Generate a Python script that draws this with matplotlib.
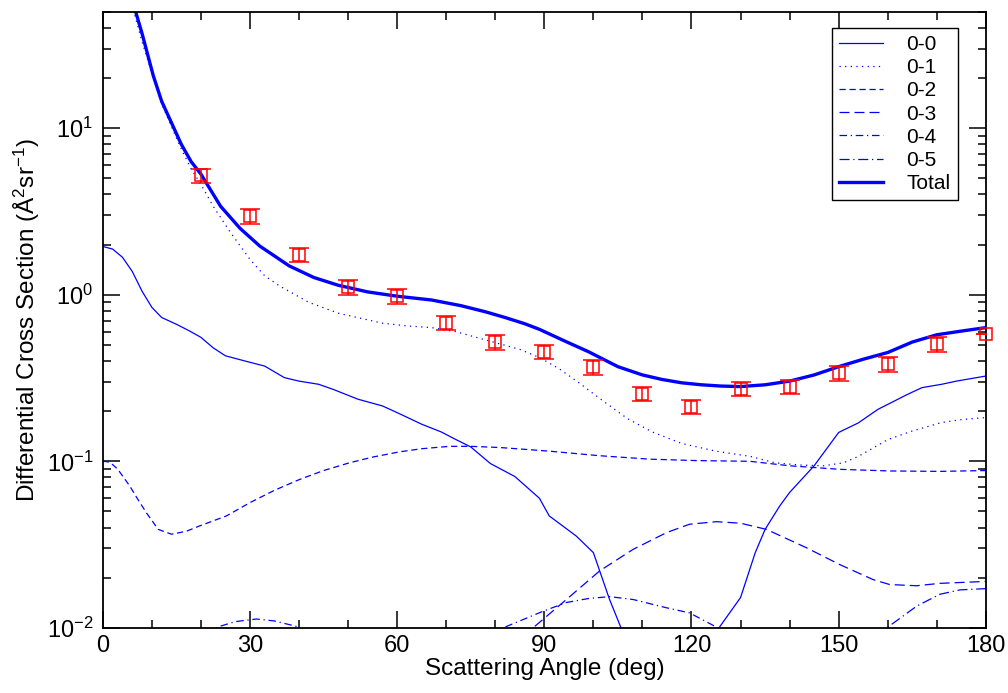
import numpy as np
import matplotlib
matplotlib.use("Agg")
import matplotlib.pyplot as plt
from matplotlib.ticker import MultipleLocator, LogLocator

plt.rcParams['font.family'] = ['Liberation Sans', 'DejaVu Sans']
plt.rcParams['mathtext.default'] = 'regular'

# -------------------------
# digitised curves (angle in deg, DCS in A^2/sr)
# -------------------------
ang_00 = [0, 2, 4, 6, 8, 10, 12, 15, 17.5, 20, 22.5, 25, 29, 33, 37, 40, 44, 47, 52, 57,
          60, 65, 69, 72, 75, 79, 84, 89, 91, 96.5, 100, 103.3, 105.7, 108, 115, 123, 125.6,
          130, 133, 135, 138, 140, 145, 150, 154, 158, 164, 167, 171, 174, 180]
dcs_00 = [1.95, 1.88, 1.68, 1.38, 1.05, 0.84, 0.73, 0.665, 0.61, 0.555, 0.48, 0.43, 0.40,
          0.373, 0.318, 0.303, 0.29, 0.27, 0.236, 0.215, 0.196, 0.167, 0.15, 0.135, 0.122,
          0.097, 0.081, 0.06, 0.047, 0.0356, 0.0283, 0.0148, 0.0099, 0.0063, 0.001, 0.0065,
          0.01, 0.0152, 0.0283, 0.039, 0.054, 0.065, 0.094, 0.149, 0.17, 0.205, 0.252, 0.277,
          0.29, 0.303, 0.325]

ang_01 = [4, 5, 6.5, 8, 10, 12, 14, 16, 18, 20, 22.5, 26, 30, 33, 36, 42, 48, 57, 62, 67,
          72, 80, 85, 89, 93, 97, 102, 107, 112, 118, 125, 132, 137, 142, 147, 151, 154, 157,
          160, 165, 171, 175, 180]
dcs_01 = [110, 68, 48, 33, 21.5, 14, 10.2, 7.5, 5.7, 4.6, 3.4, 2.37, 1.63, 1.3, 1.13, 0.9,
          0.775, 0.675, 0.65, 0.635, 0.6, 0.516, 0.47, 0.42, 0.36, 0.297, 0.23, 0.18, 0.15,
          0.128, 0.115, 0.107, 0.098, 0.095, 0.094, 0.098, 0.107, 0.12, 0.135, 0.152, 0.171,
          0.178, 0.183]

ang_02 = [0, 1.4, 3, 5.5, 7, 8.9, 11.3, 14, 17, 19.8, 25.2, 30, 35, 40.2, 45, 50.3, 55,
          60.5, 65, 70.7, 75, 80.9, 86, 91.1, 101.3, 111.5, 121, 131.9, 140, 150.2, 160.4,
          170.6, 180]
dcs_02 = [0.1, 0.099, 0.09, 0.071, 0.06, 0.049, 0.039, 0.0365, 0.038, 0.041, 0.047, 0.0565,
          0.067, 0.078, 0.088, 0.098, 0.106, 0.114, 0.119, 0.123, 0.123, 0.121, 0.118, 0.115,
          0.108, 0.103, 0.101, 0.1, 0.094, 0.0895, 0.0875, 0.087, 0.088]

ang_03 = [84, 87.7, 94.5, 101.3, 108.1, 114.9, 119.6, 125.1, 130, 135.3, 143.4, 150.2, 157,
          160.4, 165.9, 170.6, 180]
dcs_03 = [0.0075, 0.01, 0.0148, 0.022, 0.0296, 0.0373, 0.0419, 0.0434, 0.0425, 0.039,
          0.0303, 0.024, 0.0195, 0.0182, 0.0179, 0.0185, 0.019]

ang_04 = [18, 23.8, 27, 31.3, 35, 39.5, 44, 78, 82.3, 89.8, 94.5, 99, 103.3, 108.1, 114.9,
          119.6, 125.1, 129]
dcs_04 = [0.0085, 0.0102, 0.0109, 0.0113, 0.011, 0.0102, 0.0088, 0.0085, 0.0102, 0.0126,
          0.0142, 0.015, 0.0154, 0.0148, 0.0132, 0.0123, 0.0101, 0.0085]

ang_05 = [155, 160.8, 165.9, 170.6, 174.7, 180]
dcs_05 = [0.0075, 0.0105, 0.0135, 0.0159, 0.0169, 0.0172]

ang_tot = [4, 5, 6.7, 8, 10.3, 12, 14.3, 16, 18, 20, 24, 28, 32, 38, 43, 48, 54, 60, 67, 73,
           78, 82, 86, 89, 94, 99, 105, 110, 114, 118, 122, 126, 130, 135, 140, 145, 150, 155,
           160, 165, 170, 175, 180]
dcs_tot = [110, 70, 50, 37, 20.6, 14.5, 10.3, 8.0, 6.3, 5.3, 3.4, 2.5, 1.96, 1.49, 1.27, 1.14,
           1.04, 0.98, 0.93, 0.86, 0.79, 0.73, 0.67, 0.62, 0.53, 0.455, 0.37, 0.33, 0.31, 0.296,
           0.288, 0.283, 0.281, 0.288, 0.303, 0.33, 0.37, 0.41, 0.45, 0.52, 0.575, 0.605, 0.635]

# measurements
ang_exp = [20, 30, 40, 50, 60, 70, 80, 90, 100, 110, 120, 130, 140, 150, 160, 170, 180]
dcs_exp = [5.2, 2.97, 1.74, 1.11, 0.98, 0.68, 0.52, 0.455, 0.368, 0.255, 0.212, 0.273, 0.28,
           0.338, 0.383, 0.505, 0.58]
err_exp = [0.52, 0.30, 0.17, 0.11, 0.098, 0.068, 0.052, 0.046, 0.037, 0.026, 0.021, 0.027,
           0.028, 0.034, 0.038, 0.05, 0.0]

# -------------------------
# plot
# -------------------------
fig = plt.figure(figsize=(10.08, 6.93), dpi=100)
ax = fig.add_axes([0.102, 0.094, 0.876, 0.889])

blue = '#0000ff'
ax.plot(ang_00, dcs_00, color=blue, lw=0.9, ls='-', label='0-0')
ax.plot(ang_01, dcs_01, color=blue, lw=0.9, ls=(0, (1, 3.5)), label='0-1')
ax.plot(ang_02, dcs_02, color=blue, lw=0.9, ls=(0, (5, 3)), label='0-2')
ax.plot(ang_03, dcs_03, color=blue, lw=0.9, ls=(0, (8, 4)), label='0-3')
ax.plot(ang_04, dcs_04, color=blue, lw=0.9, ls=(0, (6, 3, 1, 3)), label='0-4')
ax.plot(ang_05, dcs_05, color=blue, lw=0.9, ls=(0, (8, 3, 1, 3)), label='0-5')
ax.plot(ang_tot, dcs_tot, color=blue, lw=2.4, ls='-', label='Total')

eb = ax.errorbar(ang_exp, dcs_exp, yerr=err_exp, fmt='s', mfc='none', mec='red',
                 ecolor='red', ms=9, mew=1.1, elinewidth=1.1, capsize=7, capthick=1.1,
                 zorder=4)
eb.lines[0].set_clip_on(False)

ax.set_yscale('log')
ax.set_xlim(0, 180)
ax.set_ylim(1e-2, 50)

ax.xaxis.set_major_locator(MultipleLocator(30))
ax.xaxis.set_minor_locator(MultipleLocator(10))
ax.yaxis.set_major_locator(LogLocator(base=10))
ax.yaxis.set_minor_locator(LogLocator(base=10, subs=np.arange(2, 10)))

ax.tick_params(which='both', direction='in', top=True, right=True, width=1.1,
               labelsize=17, colors='black')
ax.tick_params(which='major', length=12)
ax.tick_params(which='minor', length=6)
ax.tick_params(axis='x', pad=5)
ax.tick_params(axis='y', pad=7)
for sp in ax.spines.values():
    sp.set_linewidth(1.3)

ax.set_xlabel('Scattering Angle (deg)', fontsize=17.5, labelpad=1)
ax.set_ylabel('Differential Cross Section (Å$^2$sr$^{-1}$)', fontsize=17.5, labelpad=3)

leg = ax.legend(loc='upper right', bbox_to_anchor=(0.968, 0.974), fontsize=15,
                frameon=True, fancybox=False, edgecolor='black', framealpha=1,
                handlelength=2.1, labelspacing=0.2, borderpad=0.35, handletextpad=1.1,
                borderaxespad=0)
leg.get_frame().set_linewidth(1.0)

fig.savefig('out.png', dpi=100)
